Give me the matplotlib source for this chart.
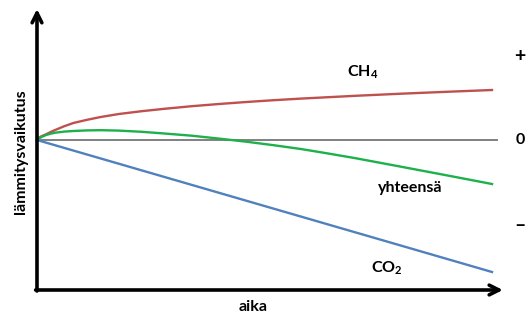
import matplotlib.pyplot as plt

# aika (suhteellinen, 0..100) ja lämmitysvaikutus (suhteellinen)
t_ch4 = [0, 0.5, 1, 2, 3, 4, 6, 8, 11, 14, 18, 23, 28, 34, 40, 46, 52, 58, 64, 70, 80, 90, 100]
ch4 = [0, 0.25, 0.38, 0.57, 0.8, 1.0, 1.38, 1.7, 2.02, 2.3, 2.6, 2.88, 3.12, 3.38, 3.6, 3.8,
       3.98, 4.14, 4.28, 4.42, 4.63, 4.82, 5.0]

t_sum = [0, 0.5, 1, 2, 3, 4, 6, 8, 11, 14, 18, 23, 28, 34, 40, 46, 52, 58, 64, 70, 80, 90, 100]
yhteensa = [0, 0.18, 0.3, 0.5, 0.63, 0.73, 0.84, 0.9, 0.96, 0.98, 0.94, 0.82, 0.65, 0.43, 0.14,
            -0.17, -0.52, -0.9, -1.35, -1.82, -2.67, -3.53, -4.4]

t_co2 = [0, 100]
co2 = [0, -13.2]

labels = {'ch4': r'$\mathbf{CH_4}$', 'sum': 'yhteensä', 'co2': r'$\mathbf{CO_2}$'}
side_ticks = ['+', '0', '–']

plt.rcParams['font.family'] = ['Lato', 'DejaVu Sans']
plt.rcParams['font.weight'] = 'bold'
plt.rcParams['mathtext.fontset'] = 'custom'
plt.rcParams['mathtext.bf'] = 'Lato:bold'
plt.rcParams['mathtext.rm'] = 'Lato:bold'

fig = plt.figure(figsize=(5.3, 3.18), dpi=100)
ax = fig.add_axes([0, 0, 1, 1])
ax.set_xlim(-8.13, 108.35)
ax.set_ylim(-17.8, 14)
ax.axis('off')

# nollataso
ax.plot([0, 101], [0, 0], color='#808080', lw=1.4, zorder=1)

ax.plot(t_ch4, ch4, color='#C0504D', lw=1.7, zorder=3, solid_joinstyle='round')
ax.plot(t_sum, yhteensa, color='#1DB04B', lw=1.7, zorder=3, solid_joinstyle='round')
ax.plot(t_co2, co2, color='#4F81BD', lw=1.7, zorder=3)

# akselit nuolilla
arrow = dict(arrowstyle='->,head_length=0.7,head_width=0.35', lw=2.6, color='black',
             shrinkA=0, shrinkB=0)
ax.annotate('', xy=(0, 13.1), xytext=(0, -15.1), arrowprops=arrow)
ax.annotate('', xy=(102.4, -15), xytext=(-0.3, -15), arrowprops=arrow)

fs = 11.5
ax.text(71.5, 6.8, labels['ch4'], fontsize=fs, ha='center', va='center')
ax.text(82, -4.8, labels['sum'], fontsize=fs, fontweight='bold', ha='center', va='center')
ax.text(76.9, -12.8, labels['co2'], fontsize=fs, ha='center', va='center')

ax.text(47.5, -16.7, 'aika', fontsize=fs, fontweight='bold', ha='center', va='center')
ax.text(-3.5, -1.2, 'lämmitysvaikutus', fontsize=fs, fontweight='bold', rotation=90,
        ha='center', va='center')

for y, s, f in zip([8.3, 0, -8.6], side_ticks, [14, fs, 14]):
    ax.text(106.2, y, s, fontsize=f, fontweight='bold', ha='center', va='center')

fig.savefig('out.png', dpi=100)
